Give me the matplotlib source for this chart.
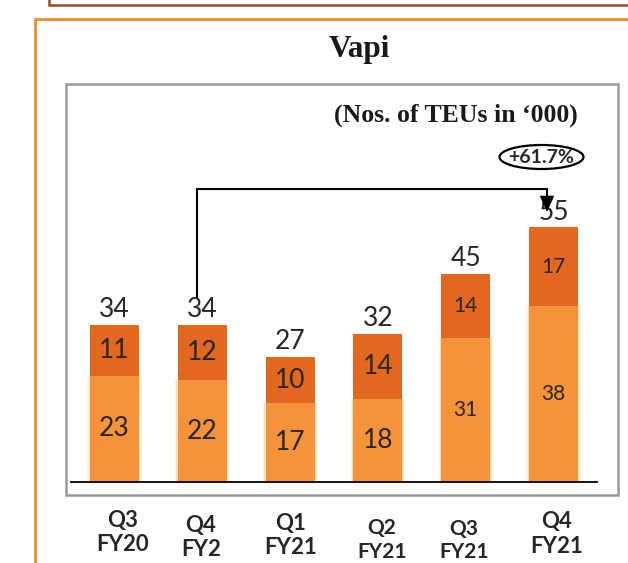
import matplotlib
matplotlib.use("Agg")
import matplotlib.pyplot as plt
from matplotlib.patches import Rectangle, Ellipse

# ---------------- data ----------------
categories = ["Q3\nFY20", "Q4\nFY2", "Q1\nFY21", "Q2\nFY21", "Q3\nFY21", "Q4\nFY21"]
lower_values = [23, 22, 17, 18, 31, 38]
upper_values = [11, 12, 10, 14, 14, 17]
totals = [a + b for a, b in zip(lower_values, upper_values)]
title = "Vapi"
unit_label = "(Nos. of TEUs in \u2018000)"
growth_label = "+61.7%"

# ---------------- layout ----------------
W, H = 628, 563
DPI = 100
fig = plt.figure(figsize=(W / DPI, H / DPI), dpi=DPI)
fig.patch.set_facecolor("white")

x0_px, step_px = 114.5, 87.8      # bar centre of first bar, spacing
base_px, ppu = 482.0, 4.63        # baseline pixel row, pixels per unit
ax = fig.add_axes([0, 0, 1, 1])
ax.set_xlim(-x0_px / step_px, (W - x0_px) / step_px)
ax.set_ylim((base_px - H) / ppu, base_px / ppu)
ax.axis("off")

def fp(x, y):
    return (x / W, 1 - y / H)

TF = fig.transFigure
DARK = "#E2681F"
LIGHT = "#F5923A"
TXT = "#262626"

# frames
ax.add_patch(Rectangle(fp(49, 5), (W + 20 - 49) / W, 20 / H, transform=TF,
                       facecolor="#FFFFFF", edgecolor="#9E4A26", lw=1.8, clip_on=False))
ax.add_patch(Rectangle(fp(35, H + 20), (W + 20 - 35) / W, (H + 20 - 19) / H, transform=TF,
                       facecolor="none", edgecolor="#F48A2C", lw=2.0, clip_on=False))
ax.add_patch(Rectangle(fp(66, 495), (618 - 66) / W, (495 - 84) / H, transform=TF,
                       facecolor="none", edgecolor="#9A9A9A", lw=1.8, clip_on=False))

# title / unit label
fig.text(*fp(359, 57), title, ha="center", va="baseline", fontsize=22.5,
         fontweight="bold", family="Liberation Serif", color="#1A1A1A")
fig.text(*fp(578, 115), unit_label, ha="right", va="center", fontsize=18.5,
         fontweight="bold", family="Liberation Serif", color="#1A1A1A")

# growth ellipse
ax.add_patch(Ellipse(fp(541.5, 157), 84 / W, 24 / H, transform=TF,
                     facecolor="none", edgecolor="black", lw=1.6))
fig.text(*fp(541.5, 157.5), growth_label, ha="center", va="center", fontsize=14,
         fontweight="bold", family="Lato", color=TXT)

# bars
xs = list(range(len(categories)))
bw = 49 / step_px
ax.bar(xs, lower_values, width=bw + 0.06, color="#FDE3A6", alpha=0.35, zorder=1)
ax.bar(xs, lower_values, width=bw + 0.03, color="#FAC070", alpha=0.35, zorder=1)
ax.bar(xs, lower_values, width=bw, color=LIGHT, zorder=2)
ax.bar(xs, upper_values, width=bw, bottom=lower_values, color=DARK, zorder=2)

# baseline
ax.plot([(71 - x0_px) / step_px, (597 - x0_px) / step_px], [0, 0], color="black", lw=1.3, zorder=3)

# value labels
inner_sizes = [19, 19, 19, 19, 15, 15]
for i in xs:
    lo, up, tot = lower_values[i], upper_values[i], totals[i]
    ax.text(i, lo / 2, str(lo), ha="center", va="center", fontsize=inner_sizes[i],
            family="Lato", color=TXT, zorder=4)
    ax.text(i, lo + up / 2, str(up), ha="center", va="center", fontsize=inner_sizes[i],
            family="Lato", color=TXT, zorder=4)
    ax.text(i, tot + 0.6, str(tot), ha="center", va="bottom", fontsize=19,
            family="Lato", color=TXT, zorder=4)

# growth connector
xa = 1 - 5.5 / step_px
xb = 5 - 6.5 / step_px
y_top = (base_px - 189) / ppu
y_start = (base_px - 297) / ppu
y_tip = (base_px - 212) / ppu
ax.plot([xa, xa, xb, xb], [y_start, y_top, y_top, y_tip + 2.2], color="black", lw=1.5,
        solid_joinstyle="miter", zorder=5)
ax.annotate("", xy=(xb, y_tip), xytext=(xb, y_tip + 2.7),
            arrowprops=dict(arrowstyle="-|>,head_length=1.0,head_width=0.45",
                            color="black", lw=1.0, shrinkA=0, shrinkB=0), zorder=5)

# category labels (two lines, individually placed)
label_pos = [(123, 532.5), (201, 537.5), (291, 535.5), (382, 540), (464, 540.5), (557, 534)]
label_size = [16, 16, 16, 15, 15, 16]
for (px_, py_), lab, fs in zip(label_pos, categories, label_size):
    fig.text(*fp(px_, py_), lab, ha="center", va="center", fontsize=fs, fontweight="bold",
             family="Lato", color=TXT, linespacing=1.2)

fig.savefig("out.png", dpi=DPI)
